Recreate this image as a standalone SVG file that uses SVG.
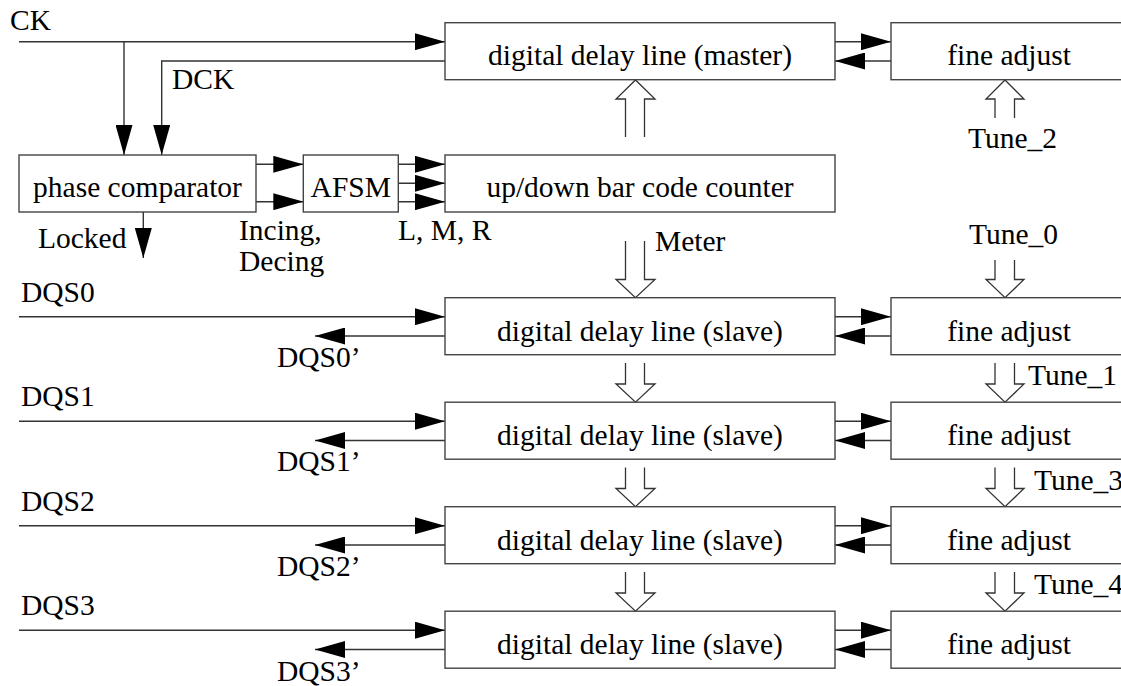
<svg xmlns="http://www.w3.org/2000/svg" width="1121" height="686" viewBox="0 0 1121 686">
<defs>
<style>
.box{fill:#fff;stroke:#444;stroke-width:1.4}
.ln{fill:none;stroke:#333;stroke-width:1.4}
.ha{fill:#fff;stroke:#333;stroke-width:1.3;stroke-linejoin:miter}
text{font-family:"Liberation Serif","Times New Roman",serif;font-size:29.5px;fill:#000}
.mid{text-anchor:middle}
</style>
<marker id="ah" markerWidth="30" markerHeight="17" refX="30" refY="8.5" orient="auto" markerUnits="userSpaceOnUse">
<path d="M0,0 L30,8.5 L0,17 z" fill="#000"/>
</marker>
</defs>
<rect width="1121" height="686" fill="#fff"/>

<g id="connectors">
<!-- CK / DCK -->
<line class="ln" x1="19" y1="41.7" x2="445" y2="41.7" marker-end="url(#ah)"/>
<line class="ln" x1="124" y1="41.7" x2="124" y2="155" marker-end="url(#ah)"/>
<polyline class="ln" points="445,61 161.7,61 161.7,155" marker-end="url(#ah)"/>
<!-- master <-> fine adjust -->
<line class="ln" x1="835" y1="41.7" x2="891" y2="41.7" marker-end="url(#ah)"/>
<line class="ln" x1="891" y1="61" x2="835" y2="61" marker-end="url(#ah)"/>
<!-- phase comparator -> AFSM -->
<line class="ln" x1="256" y1="164.3" x2="303.3" y2="164.3" marker-end="url(#ah)"/>
<line class="ln" x1="256" y1="201.7" x2="303.3" y2="201.7" marker-end="url(#ah)"/>
<!-- AFSM -> counter -->
<line class="ln" x1="398.3" y1="164.3" x2="445" y2="164.3" marker-end="url(#ah)"/>
<line class="ln" x1="398.3" y1="183.3" x2="445" y2="183.3" marker-end="url(#ah)"/>
<line class="ln" x1="398.3" y1="201.7" x2="445" y2="201.7" marker-end="url(#ah)"/>
<!-- Locked -->
<line class="ln" x1="143.3" y1="212" x2="143.3" y2="258" marker-end="url(#ah)"/>

<!-- hollow arrows up -->
<path class="ha" d="M625.5,137 L625.5,99 L616,99 L635.5,80 L655,99 L644.5,99 L644.5,137"/>
<path class="ha" d="M995,118 L995,99 L986,99 L1005,80 L1024,99 L1014.5,99 L1014.5,118"/>
<!-- hollow arrows down: Meter, Tune_0 -->
<path class="ha" d="M625.5,241 L625.5,279.5 L616,279.5 L635.5,297.7 L655,279.5 L644.5,279.5 L644.5,241"/>
<path class="ha" d="M995,260 L995,279.5 L986,279.5 L1005,297.7 L1024,279.5 L1014.5,279.5 L1014.5,260"/>
<!-- hollow arrows between rows -->
<path class="ha" d="M625.5,363 L625.5,384 L616,384 L635.5,402.2 L655,384 L644.5,384 L644.5,363"/>
<path class="ha" d="M995,363 L995,384 L986,384 L1005,402.2 L1024,384 L1014.5,384 L1014.5,363"/>
<path class="ha" d="M625.5,467.5 L625.5,488.5 L616,488.5 L635.5,506.7 L655,488.5 L644.5,488.5 L644.5,467.5"/>
<path class="ha" d="M995,467.5 L995,488.5 L986,488.5 L1005,506.7 L1024,488.5 L1014.5,488.5 L1014.5,467.5"/>
<path class="ha" d="M625.5,572 L625.5,593 L616,593 L635.5,611.2 L655,593 L644.5,593 L644.5,572"/>
<path class="ha" d="M995,572 L995,593 L986,593 L1005,611.2 L1024,593 L1014.5,593 L1014.5,572"/>

<!-- slave rows -->
<line class="ln" x1="19" y1="316.7" x2="445" y2="316.7" marker-end="url(#ah)"/>
<line class="ln" x1="445" y1="336" x2="315" y2="336" marker-end="url(#ah)"/>
<line class="ln" x1="835" y1="316.7" x2="891" y2="316.7" marker-end="url(#ah)"/>
<line class="ln" x1="891" y1="336" x2="835" y2="336" marker-end="url(#ah)"/>

<line class="ln" x1="19" y1="421.2" x2="445" y2="421.2" marker-end="url(#ah)"/>
<line class="ln" x1="445" y1="440.5" x2="315" y2="440.5" marker-end="url(#ah)"/>
<line class="ln" x1="835" y1="421.2" x2="891" y2="421.2" marker-end="url(#ah)"/>
<line class="ln" x1="891" y1="440.5" x2="835" y2="440.5" marker-end="url(#ah)"/>

<line class="ln" x1="19" y1="525.7" x2="445" y2="525.7" marker-end="url(#ah)"/>
<line class="ln" x1="445" y1="545" x2="315" y2="545" marker-end="url(#ah)"/>
<line class="ln" x1="835" y1="525.7" x2="891" y2="525.7" marker-end="url(#ah)"/>
<line class="ln" x1="891" y1="545" x2="835" y2="545" marker-end="url(#ah)"/>

<line class="ln" x1="19" y1="630.2" x2="445" y2="630.2" marker-end="url(#ah)"/>
<line class="ln" x1="445" y1="649.5" x2="315" y2="649.5" marker-end="url(#ah)"/>
<line class="ln" x1="835" y1="630.2" x2="891" y2="630.2" marker-end="url(#ah)"/>
<line class="ln" x1="891" y1="649.5" x2="835" y2="649.5" marker-end="url(#ah)"/>
</g>

<g id="master">
<rect class="box" x="445" y="22.7" width="390" height="57"/>
<text class="mid" x="640" y="64.5">digital delay line (master)</text>
</g>
<g id="fine0">
<rect class="box" x="891" y="22.7" width="250" height="57"/>
<text class="mid" x="1009" y="64.5">fine adjust</text>
</g>
<g id="phase">
<rect class="box" x="19" y="155" width="237" height="57"/>
<text class="mid" x="137.5" y="197">phase comparator</text>
</g>
<g id="afsm">
<rect class="box" x="303.3" y="155" width="95" height="57"/>
<text class="mid" x="350.8" y="197">AFSM</text>
</g>
<g id="counter">
<rect class="box" x="445" y="155" width="390" height="57"/>
<text class="mid" x="640" y="197">up/down bar code counter</text>
</g>

<g id="slave0">
<rect class="box" x="445" y="297.7" width="390" height="57"/>
<text class="mid" x="640" y="340.7">digital delay line (slave)</text>
</g>
<g id="fine1">
<rect class="box" x="891" y="297.7" width="250" height="57"/>
<text class="mid" x="1009" y="340.7">fine adjust</text>
</g>
<g id="slave1">
<rect class="box" x="445" y="402.2" width="390" height="57"/>
<text class="mid" x="640" y="445.2">digital delay line (slave)</text>
</g>
<g id="fine2">
<rect class="box" x="891" y="402.2" width="250" height="57"/>
<text class="mid" x="1009" y="445.2">fine adjust</text>
</g>
<g id="slave2">
<rect class="box" x="445" y="506.7" width="390" height="57"/>
<text class="mid" x="640" y="549.7">digital delay line (slave)</text>
</g>
<g id="fine3">
<rect class="box" x="891" y="506.7" width="250" height="57"/>
<text class="mid" x="1009" y="549.7">fine adjust</text>
</g>
<g id="slave3">
<rect class="box" x="445" y="611.2" width="390" height="57"/>
<text class="mid" x="640" y="654.2">digital delay line (slave)</text>
</g>
<g id="fine4">
<rect class="box" x="891" y="611.2" width="250" height="57"/>
<text class="mid" x="1009" y="654.2">fine adjust</text>
</g>

<g id="labels">
<text x="10" y="30">CK</text>
<text x="172" y="89">DCK</text>
<text x="38" y="248">Locked</text>
<text x="239" y="240">Incing,</text>
<text x="239" y="271">Decing</text>
<text x="398" y="240">L, M, R</text>
<text x="655" y="251">Meter</text>
<text x="968" y="148">Tune_2</text>
<text x="969" y="244">Tune_0</text>
<text x="1028" y="385">Tune_1</text>
<text x="1034" y="490">Tune_3</text>
<text x="1034" y="594">Tune_4</text>
<text x="21" y="302">DQS0</text>
<text x="277" y="367">DQS0’</text>
<text x="21" y="406">DQS1</text>
<text x="277" y="471">DQS1’</text>
<text x="21" y="510.5">DQS2</text>
<text x="277" y="576">DQS2’</text>
<text x="21" y="615">DQS3</text>
<text x="277" y="680.5">DQS3’</text>
</g>
</svg>
